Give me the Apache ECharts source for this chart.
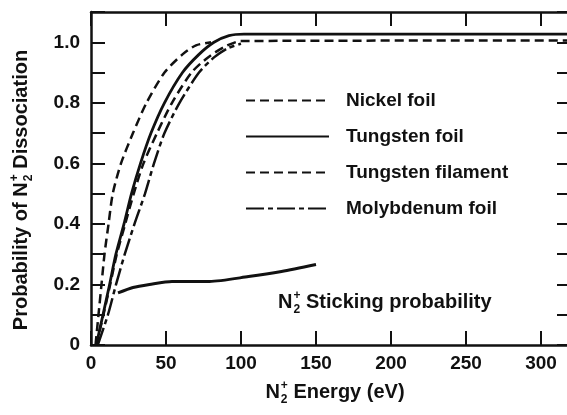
<!DOCTYPE html>
<html>
<head>
<meta charset="utf-8">
<script src="https://cdn.jsdelivr.net/npm/echarts@6/dist/echarts.min.js"></script>
<style>
  html, body { margin: 0; padding: 0; background: #fff; }
  #chart { width: 567px; height: 415px; }
</style>
</head>
<body>
<div id="chart"></div>
<script>
// values: [energy (eV), probability]
var nickelFoil = [[3,0],[5,0.1],[7,0.2],[9,0.3],[11.7,0.4],[14.5,0.5],[20,0.6],[28,0.7],[37,0.8],[49,0.9],[61,0.96],[70,0.99],[80,1.0]];
var tungstenFoil = [[3.5,0],[8,0.1],[12.4,0.2],[16.6,0.3],[22,0.4],[27,0.5],[33,0.6],[40,0.7],[49,0.8],[61,0.9],[72,0.96],[82,1.0],[92,1.022],[102,1.027],[320,1.027]];
var tungstenFilament = [[3.5,0],[8.3,0.1],[12.8,0.2],[17.2,0.3],[22.8,0.4],[28.5,0.5],[35,0.6],[44,0.7],[54,0.8],[67,0.9],[78,0.95],[89,0.985],[100,1.004],[320,1.006]];
var molybdenumFoil = [[4.5,0],[11.3,0.1],[16.7,0.2],[22.5,0.3],[29,0.4],[36,0.5],[42,0.6],[49,0.7],[59,0.8],[72,0.9],[82,0.95],[91,0.98],[100,0.995]];
var sticking = [[18,0.172],[28,0.19],[39,0.2],[54,0.21],[79,0.21],[105,0.226],[127,0.243],[150,0.266]];

var legendNames = ['Nickel foil', 'Tungsten foil', 'Tungsten filament', 'Molybdenum foil'];

var FONT = "'Liberation Sans', Arial, Helvetica, sans-serif";
var INK = '#111';

var chartDom = document.getElementById('chart');
var myChart = echarts.init(chartDom);

var measureCtx = document.createElement('canvas').getContext('2d');
function textWidth(str, size) {
    measureCtx.font = 'bold ' + size + 'px ' + FONT;
    return measureCtx.measureText(str).width;
}

function txt(str, x, y, fs) {
    return {
        type: 'text', x: x, y: y,
        style: { text: str, fill: INK, fontSize: fs, fontWeight: 'bold', fontFamily: FONT, verticalAlign: 'middle', align: 'left' }
    };
}

// pre + "N" with stacked + / 2 + rest
function n2Label(pre, rest, size, anchor) {
    var small = Math.round(size * 0.62);
    var wP = pre ? textWidth(pre, size) : 0;
    var wN = textWidth('N', size);
    var wS = Math.max(textWidth('+', small), textWidth('2', small));
    var wR = textWidth(' ' + rest, size);
    var total = wP + wN + 1 + wS + wR;
    var x0 = anchor === 'center' ? -total / 2 : 0;
    var parts = [
        txt('N', x0 + wP, 0, size),
        txt('+', x0 + wP + wN + 1, -size * 0.32, small),
        txt('2', x0 + wP + wN + 1, size * 0.38, small),
        txt(' ' + rest, x0 + wP + wN + 1 + wS, 0, size)
    ];
    if (pre) parts.unshift(txt(pre, x0, 0, size));
    return parts;
}

function yLabel(v) {
    var k = Math.round(v * 10);
    if (Math.abs(v * 10 - k) > 0.01 || k % 2 !== 0) return '';
    return k === 0 ? '0' : (k / 10).toFixed(1);
}

var axisLine = { show: true, onZero: false, lineStyle: { color: INK, width: 2.5 } };
var axisTick = { show: true, inside: true, length: 14, lineStyle: { color: INK, width: 2 } };
var labelFont = { color: INK, fontSize: 19, fontWeight: 'bold', fontFamily: FONT };

function curve(name, data, type, width) {
    return {
        name: name,
        type: 'line',
        data: data,
        symbol: 'none',
        smooth: 0.25,
        lineStyle: { color: INK, width: width || 2.5, type: type },
        itemStyle: { color: INK },
        emphasis: { disabled: true },
        z: 3
    };
}

var option = {
    backgroundColor: '#fff',
    animation: false,
    grid: { left: 91, right: -4, top: 12, bottom: 70, outerBoundsMode: 'none' },
    legend: {
        data: legendNames,
        orient: 'vertical',
        left: 245,
        top: 91,
        padding: 0,
        itemWidth: 83,
        itemHeight: 20,
        itemGap: 17,
        selectedMode: false,
        itemStyle: { opacity: 0 },
        textStyle: { color: INK, fontSize: 19, fontWeight: 'bold', fontFamily: FONT, padding: [0, 0, 0, 12] }
    },
    xAxis: [
        {
            type: 'value', position: 'bottom', min: 0, max: 320, interval: 50,
            axisLine: axisLine, axisTick: axisTick, splitLine: { show: false },
            axisLabel: Object.assign({ margin: 9, formatter: function (v) { return v % 50 === 0 ? String(v) : ''; } }, labelFont)
        },
        {
            type: 'value', position: 'top', min: 0, max: 320, interval: 50,
            axisLine: axisLine, axisTick: axisTick, splitLine: { show: false },
            axisLabel: { show: false }
        }
    ],
    yAxis: [
        {
            type: 'value', position: 'left', min: 0, max: 1.1, interval: 0.1,
            axisLine: axisLine, axisTick: axisTick, splitLine: { show: false },
            axisLabel: Object.assign({ margin: 11, formatter: yLabel }, labelFont)
        },
        {
            type: 'value', position: 'right', min: 0, max: 1.1, interval: 0.1,
            axisLine: axisLine, axisTick: axisTick, splitLine: { show: false },
            axisLabel: { show: false }
        }
    ],
    series: [
        curve('Nickel foil', nickelFoil, [9, 5]),
        curve('Tungsten foil', tungstenFoil, 'solid', 2.8),
        curve('Tungsten filament', tungstenFilament, [9, 5]),
        curve('Molybdenum foil', molybdenumFoil, [18, 4, 5, 4]),
        curve('Sticking probability', sticking, 'solid', 3)
    ],
    graphic: [
        { type: 'group', x: 335, y: 392, children: n2Label('', 'Energy (eV)', 20, 'center') },
        { type: 'group', x: 21, y: 190, rotation: Math.PI / 2, children: n2Label('Probability of ', 'Dissociation', 20, 'center') },
        { type: 'group', x: 278, y: 302, children: n2Label('', 'Sticking probability', 20, 'left') }
    ]
};

option && myChart.setOption(option);
</script>
</body>
</html>
